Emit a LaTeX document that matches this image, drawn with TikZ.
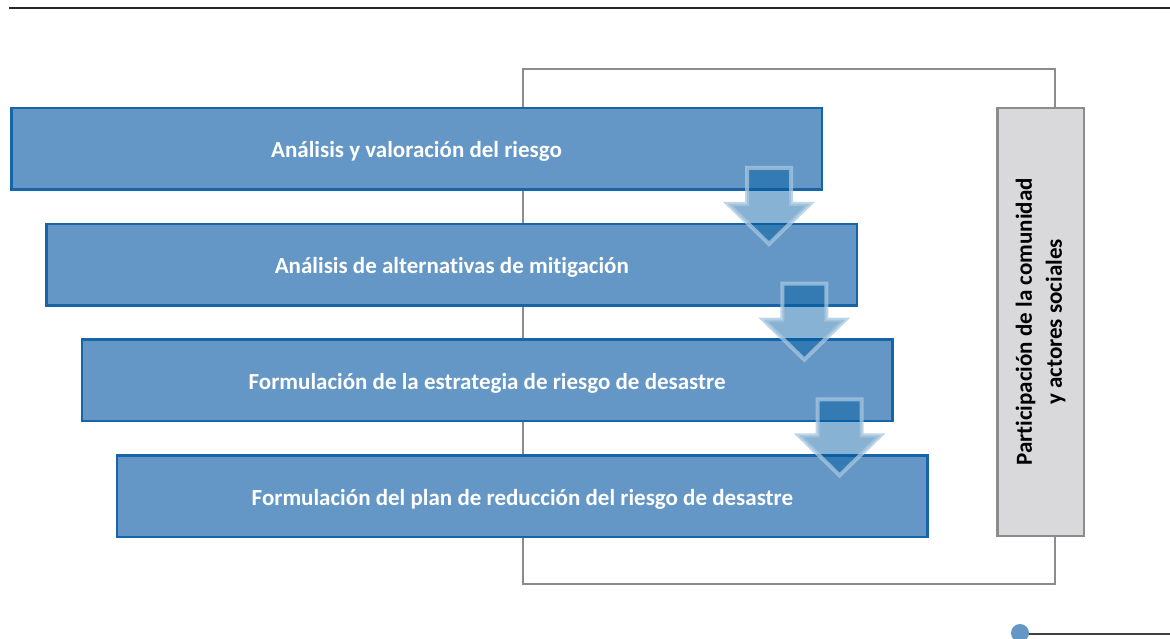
\documentclass[tikz,border=0pt]{standalone}
\usepackage{fontspec}
\setmainfont{Carlito}[Ligatures=NoCommon]
\usetikzlibrary{positioning, calc}
\definecolor{stageblue}{RGB}{100,151,197}
\definecolor{stageline}{RGB}{21,101,168}
\definecolor{arrowblue}{RGB}{0,92,161}
\definecolor{arrowedge}{RGB}{170,200,225}
\definecolor{framegray}{RGB}{140,140,140}
\definecolor{sidegray}{RGB}{217,217,219}
\tikzstyle{stage} = [rectangle, minimum width=810.5pt, minimum height=81.5pt, text height=18pt, text depth=0pt, text centered, draw=stageline, line width=2.5pt, fill=stageblue, text=white, font=\bfseries\fontsize{23}{27}\selectfont]
\tikzstyle{side} = [rectangle, rotate=90, minimum width=427.5pt, minimum height=86.5pt, align=center, draw=framegray, line width=2.5pt, fill=sidegray, font=\bfseries\fontsize{23}{30}\selectfont]
\tikzstyle{frame} = [draw=framegray, line width=2pt]
\tikzstyle{flow} = [fill=arrowblue, fill opacity=0.47, draw=arrowedge, draw opacity=0.75, line width=4pt, line join=miter]

\begin{document}
\begin{tikzpicture}[x=1pt, y=1pt, node distance=115.7pt]
                \useasboundingbox (0,0) rectangle (1170,638);
                % rule on top and marker below
                \draw [black!85, line width=2pt] (9,629.5) -- (1170,629.5);
                \draw [black!75, line width=2pt] (1020,4) -- (1170,4);
                \fill [stageblue] (1020,5) circle (9);

                % loop behind the stages
                \draw [frame] (523,569) rectangle (1055,54);

                \node (s1) [stage] at (416.5,489) {Análisis y valoración del riesgo};
                \node (s2) [stage, below of=s1, xshift=35.3pt] {Análisis de alternativas de mitigación};
                \node (s3) [stage, below of=s2, xshift=35.3pt] {Formulación de la estrategia de riesgo de desastre};
                \node (s4) [stage, below of=s3, xshift=35.3pt] {Formulación del plan de reducción del riesgo de desastre};
                \node (part) [side] at (1040.5,316) {Participación de la comunidad\\y actores sociales};

                \foreach \a in {s1,s2,s3}
                    \draw [flow] ($(\a.south east)+(-76,23)$) -- ++(44,0) -- ++(0,-36) -- ++(19,0) -- ++(-41,-40) -- ++(-41,40) -- ++(19,0) -- cycle;
            \end{tikzpicture}
\end{document}
